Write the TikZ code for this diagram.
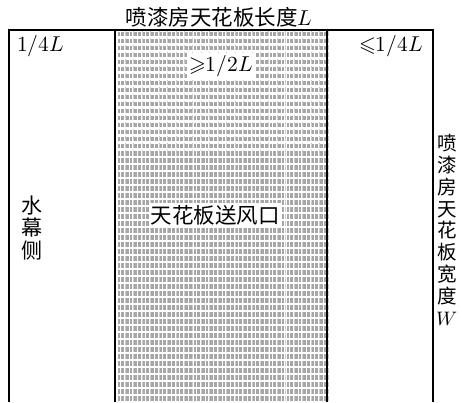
\documentclass[tikz,border=0pt]{standalone}
\usepackage{fontspec}
\usepackage{unicode-math}
\setmathfont{Latin Modern Math}
\newfontfamily\cjk{Noto Sans CJK SC}
\tikzset{
  frame/.style={line width=1.7pt, black},
  cell/.style={fill=black!35, draw=none},
  lbl/.style={font=\fontsize{21.5pt}{24pt}\selectfont\cjk, inner sep=1pt},
  whitelbl/.style={lbl, fill=white, inner sep=2pt},
  vlbl/.style={align=center, inner sep=1pt}
}
\begin{document}
\begin{tikzpicture}[x=1pt,y=1pt]
\useasboundingbox (0,0) rectangle (462,402);
% hatched region
\foreach \r in {0,...,52}{
  \foreach \c in {0,...,24}{
    \pgfmathsetmacro{\xx}{117.5+\c*8.45}
    \pgfmathsetmacro{\yy}{1.5+\r*7.0}
    \fill[cell] (\xx,\yy) rectangle ++(2.6,4.6);
    \fill[cell] (\xx+3.6,\yy) rectangle ++(2.8,4.6);
    \fill[black!20] (\xx+7.3,\yy) rectangle ++(0.6,5.0);
  }
}
% frame
\coordinate (bl) at (9,0);
\coordinate (tl) at (9,372);
\coordinate (tr) at (433,372);
\coordinate (br) at (433,0);
\coordinate (ml) at (115,372);
\coordinate (mlb) at (115,0);
\coordinate (mr) at (327,372);
\coordinate (mrb) at (327,0);
\draw[frame] (bl) -- (tl) -- (tr) -- (br);
\draw[frame] (ml) -- (mlb);
\draw[frame] (mr) -- (mrb);
% labels
\node[lbl] (title) at (219,385) {喷漆房天花板长度$L$};
\node[lbl, anchor=west] (q1) at (16,356) {$1/4L$};
\node[lbl, anchor=east] (q2) at (424,356) {${\leqslant}1/4L$};
\node[whitelbl] (half) at (221,336) {${\geqslant}1/2L$};
\node[whitelbl] (vent) at (215,187) {天花板送风口};
\node[vlbl, font=\fontsize{21pt}{22.5pt}\selectfont\cjk] (side) at (32,174) {水\\幕\\侧};
\node[vlbl, font=\fontsize{19.5pt}{21.8pt}\selectfont\cjk] (width) at (447,172) {喷\\漆\\房\\天\\花\\板\\宽\\度\\$W$};
\end{tikzpicture}
\end{document}
